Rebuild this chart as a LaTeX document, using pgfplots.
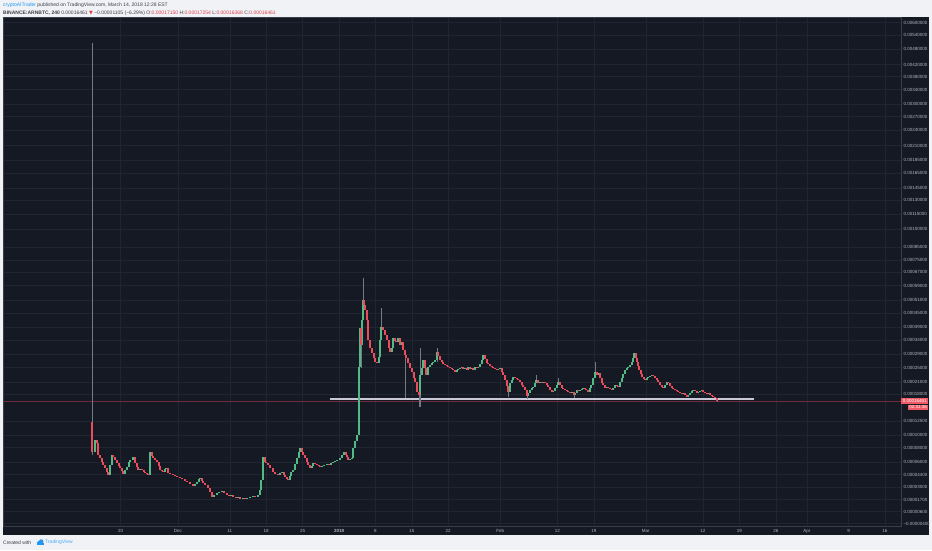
\documentclass[border=0pt]{standalone}
\usepackage{fontspec}
\setmainfont{Liberation Sans}
\newfontfamily\dejavu{DejaVu Sans}
\usepackage{pgfplots}
\usepackage{pgfplotstable}
\pgfplotsset{compat=1.18}

\definecolor{page}{RGB}{240,242,245}
\definecolor{bg}{RGB}{21,25,36}
\definecolor{gridc}{RGB}{33,37,49}
\definecolor{sep}{RGB}{58,62,74}
\definecolor{txt}{RGB}{178,181,190}
\definecolor{upc}{RGB}{83,185,135}
\definecolor{dnc}{RGB}{235,77,92}
\definecolor{wick}{RGB}{118,121,133}
\definecolor{hdr}{RGB}{60,62,72}
\definecolor{hred}{RGB}{222,62,74}
\definecolor{tvblue}{RGB}{33,150,243}
\definecolor{supc}{RGB}{200,200,214}
\definecolor{pline}{RGB}{112,42,58}
\definecolor{lblc}{RGB}{240,90,100}

% ARN/BTC, 4h candles; prices in units of 1e-5 BTC, x in days from 1 Jan 2018
% price scale: y = ln(price + 10)
\pgfplotstableread{
x o c
-46.92 7.37 9.19
-44.04 4.36 5.60
-43.65 5.60 6.95
-41.15 4.48 4.97
-40.77 4.97 5.34
-40.38 5.34 5.99
-40.19 5.99 6.26
-39.62 6.26 6.67
-38.27 4.97 5.09
-36.35 4.36 7.37
-33.46 4.72 5.09
-33.27 5.09 5.22
-27.69 3.11 3.33
-27.31 3.33 3.55
-26.92 3.55 3.89
-26.73 3.89 4.01
-24.04 1.97 2.17
-23.46 2.17 2.37
-23.08 2.37 2.47
-22.50 2.47 2.58
-20.77 2.06 2.17
-19.42 1.87 1.97
-18.46 1.77 1.87
-17.69 1.77 1.87
-17.12 1.87 1.97
-16.54 1.97 2.06
-15.58 1.97 2.17
-15.19 2.17 2.68
-15.00 2.68 3.78
-14.62 3.78 6.67
-11.35 4.36 4.60
-10.96 4.60 4.72
-9.42 3.78 4.24
-9.23 4.24 4.72
-8.85 4.72 4.97
-8.46 4.97 5.73
-8.08 5.73 6.53
-7.69 6.53 7.37
-7.50 7.37 7.96
-5.19 5.22 5.47
-5.00 5.47 5.86
-3.27 5.34 5.47
-2.88 5.47 5.60
-2.31 5.60 5.73
-1.54 5.60 5.86
-1.15 5.86 5.99
-0.77 5.99 6.12
-0.38 6.12 6.26
0.19 6.26 6.53
0.58 6.53 6.95
0.96 6.95 7.37
2.12 6.26 6.39
2.50 6.39 6.53
2.69 6.53 7.96
3.08 7.96 9.03
3.46 9.03 10.00
3.85 10.00 25.13
4.04 25.13 38.53
4.42 32.16 41.86
4.62 41.86 51.20
7.69 26.32 28.17
7.88 28.17 33.94
8.08 33.94 38.94
10.19 29.78 31.12
10.38 31.12 34.67
11.35 33.22 34.67
12.12 32.16 33.22
15.58 17.86 22.88
15.96 22.88 24.84
16.15 24.84 27.23
17.12 22.88 25.13
17.50 25.13 25.72
17.88 25.72 26.32
18.08 26.32 26.62
18.46 26.62 27.23
18.85 27.23 29.78
22.69 23.71 24.27
22.88 24.27 24.56
23.27 24.56 24.84
23.65 24.84 25.13
24.23 24.56 24.84
24.81 24.27 25.13
25.58 24.56 24.84
26.15 24.27 25.13
26.73 24.84 25.13
27.12 25.13 26.02
27.50 26.02 27.23
27.69 27.23 28.81
30.58 24.27 24.56
30.96 24.56 24.84
32.88 18.56 20.77
33.27 20.77 21.55
33.46 21.55 22.34
36.35 17.63 18.33
36.73 18.33 19.04
37.12 19.04 19.52
37.31 19.52 19.77
37.69 19.77 20.77
37.88 20.77 21.55
38.65 20.77 21.03
39.23 20.77 21.03
41.15 18.56 18.80
41.54 18.80 19.52
41.92 19.52 20.27
42.12 20.27 21.03
44.81 18.33 18.56
45.38 17.86 18.33
45.77 18.33 19.04
46.35 18.80 19.04
46.73 19.04 19.28
46.92 19.28 19.52
48.27 18.56 19.52
48.46 19.52 20.27
48.85 20.27 22.07
49.23 22.07 23.71
50.00 22.88 23.43
51.54 19.52 19.77
52.69 19.04 19.52
53.08 19.52 20.27
54.04 19.77 21.03
54.42 21.03 22.07
54.62 22.07 23.15
55.00 23.15 24.27
55.38 24.27 24.84
55.58 24.84 25.13
55.96 25.13 25.72
56.35 25.72 26.62
56.54 26.62 27.85
56.73 27.85 29.45
59.23 21.55 22.07
59.42 22.07 22.34
59.81 22.34 22.61
60.19 22.61 22.88
62.69 19.52 20.27
63.08 20.27 21.03
66.15 18.09 18.33
67.12 17.40 17.86
67.50 17.86 18.33
67.88 18.33 18.80
68.08 18.80 19.04
69.04 18.33 18.56
69.42 18.56 18.80
69.81 18.80 19.04
70.96 18.09 18.33
}\upT

\pgfplotstableread{
x o c
-47.50 12.27 7.37
-46.54 9.19 8.72
-46.35 8.72 6.95
-45.96 6.95 6.53
-45.58 6.53 5.99
-45.38 5.99 5.60
-45.00 5.60 5.22
-44.62 5.22 4.72
-44.42 4.72 4.36
-43.46 6.95 6.67
-43.08 6.67 6.26
-42.69 6.26 5.86
-42.31 5.86 5.47
-42.12 5.47 5.22
-41.73 5.22 4.84
-41.54 4.84 4.48
-39.23 6.67 5.86
-38.85 5.86 5.34
-38.65 5.34 4.97
-37.88 5.09 4.97
-37.50 4.97 4.72
-37.31 4.72 4.60
-36.92 4.60 4.48
-36.73 4.48 4.36
-35.96 7.37 6.81
-35.77 6.81 6.53
-35.38 6.53 6.26
-35.00 6.26 5.99
-34.62 5.99 5.47
-34.42 5.47 4.97
-34.04 4.97 4.84
-33.85 4.84 4.72
-32.88 5.22 4.60
-32.50 4.60 4.48
-31.92 4.48 4.36
-31.54 4.36 4.24
-31.15 4.24 4.12
-30.58 4.12 4.01
-30.19 4.01 3.89
-29.62 3.89 3.66
-29.23 3.66 3.55
-28.65 3.55 3.33
-28.08 3.33 3.11
-26.35 4.01 3.66
-26.15 3.66 3.44
-25.77 3.44 3.22
-25.19 3.22 2.89
-24.81 2.89 2.47
-24.42 2.47 1.97
-22.12 2.58 2.37
-21.54 2.37 2.17
-21.15 2.17 2.06
-20.38 2.17 1.97
-19.81 1.97 1.87
-19.04 1.97 1.77
-18.08 1.87 1.77
-16.15 2.06 1.97
-14.23 6.67 5.99
-14.04 5.99 5.86
-13.65 5.86 5.60
-13.27 5.60 5.22
-12.69 5.22 4.72
-12.31 4.72 4.48
-11.73 4.48 4.36
-10.58 4.72 4.36
-10.38 4.36 4.12
-10.00 4.12 3.89
-9.81 3.89 3.78
-7.12 7.96 7.37
-6.92 7.37 6.95
-6.54 6.95 6.53
-6.15 6.53 5.99
-5.96 5.99 5.60
-5.58 5.60 5.22
-4.62 5.86 5.73
-4.23 5.73 5.60
-3.85 5.60 5.47
-3.65 5.47 5.34
-1.92 5.73 5.60
1.35 7.37 6.95
1.54 6.95 6.67
1.73 6.67 6.26
4.23 38.53 32.16
4.81 51.20 48.72
5.00 48.72 46.34
5.38 46.34 41.86
5.58 41.86 33.94
5.96 33.94 31.12
6.35 31.12 29.45
6.73 29.45 27.85
6.92 27.85 26.62
7.31 26.62 26.32
8.46 38.94 37.74
8.85 37.74 35.80
9.23 35.80 33.94
9.62 33.94 31.12
9.81 31.12 29.78
10.77 34.67 33.58
10.96 33.58 33.22
11.73 34.67 32.16
12.31 33.22 30.45
12.69 30.45 28.81
12.88 28.81 27.85
13.27 27.85 26.32
13.65 26.32 24.84
14.04 24.84 23.71
14.42 23.71 22.07
14.62 22.07 21.03
15.00 21.03 18.56
15.38 18.56 17.86
16.54 27.23 24.84
16.73 24.84 22.88
19.04 29.78 28.49
19.42 28.49 27.23
19.81 27.23 26.62
20.00 26.62 26.02
20.38 26.02 25.72
20.77 25.72 25.43
20.96 25.43 25.13
21.35 25.13 24.84
21.73 24.84 24.56
21.92 24.56 24.27
22.31 24.27 23.71
23.85 25.13 24.56
24.62 24.84 24.27
25.19 25.13 24.56
25.77 24.84 24.27
26.54 25.13 24.84
28.08 28.81 27.54
28.46 27.54 26.32
28.65 26.32 26.02
29.04 26.02 25.43
29.42 25.43 25.13
29.62 25.13 24.84
30.00 24.84 24.56
30.38 24.56 24.27
31.35 24.84 23.71
31.54 23.71 22.88
31.92 22.88 21.55
32.31 21.55 20.02
32.50 20.02 18.56
33.85 22.34 22.07
34.23 22.07 21.81
34.42 21.81 21.55
34.81 21.55 21.03
35.19 21.03 20.27
35.38 20.27 19.77
35.77 19.77 19.04
36.15 19.04 17.63
38.27 21.55 20.77
39.04 21.03 20.77
39.62 21.03 20.77
40.00 20.77 20.27
40.19 20.27 19.77
40.58 19.77 19.04
40.96 19.04 18.56
42.50 21.03 20.27
42.88 20.27 19.52
43.08 19.52 19.28
43.46 19.28 19.04
43.85 19.04 18.80
44.04 18.80 18.56
44.42 18.56 18.33
45.19 18.56 17.86
45.96 19.04 18.80
47.31 19.52 19.28
47.50 19.28 19.04
47.88 19.04 18.56
49.62 23.71 22.88
50.19 23.43 22.07
50.58 22.07 20.77
50.77 20.77 20.27
51.15 20.27 19.52
51.73 19.77 19.52
52.12 19.52 19.28
52.50 19.28 19.04
53.46 20.27 20.02
53.65 20.02 19.77
57.12 29.45 27.85
57.31 27.85 26.62
57.50 26.62 25.43
57.69 25.43 24.27
58.08 24.27 23.15
58.27 23.15 22.34
58.65 22.34 21.81
58.85 21.81 21.55
60.38 22.88 22.61
60.77 22.61 22.07
61.15 22.07 21.55
61.35 21.55 21.03
61.73 21.03 20.27
62.12 20.27 19.77
62.31 19.77 19.52
63.27 21.03 20.77
63.65 20.77 20.02
64.04 20.02 19.52
64.23 19.52 19.28
64.62 19.28 19.04
65.00 19.04 18.80
65.19 18.80 18.56
65.58 18.56 18.33
65.96 18.33 18.09
66.54 18.33 17.86
66.92 17.86 17.40
68.46 19.04 18.80
68.85 18.80 18.33
70.00 19.04 18.56
70.38 18.56 18.33
70.77 18.33 18.09
71.35 18.33 17.86
71.73 17.86 17.63
71.92 17.63 17.40
72.31 17.40 17.15
72.69 17.15 16.461
}\dnT

% wicks that stick out of the bodies
\pgfplotstableread{
x l h
-47.50 6.95 504.6
4.23 24.84 38.53
4.62 41.86 63.44
8.08 33.94 47.28
12.69 17.18 30.45
15.38 15.22 18.56
15.58 15.22 31.12
18.85 26.62 31.12
32.50 17.40 20.02
36.15 16.95 19.04
37.88 20.77 22.88
42.12 20.27 22.07
45.19 17.18 18.56
49.23 22.07 26.62
72.69 16.368 17.254
}\wickT

\begin{document}
\begin{tikzpicture}
\fill[page] (0pt,0pt) rectangle (932pt,550pt);
\fill[bg] (3pt,15pt) rectangle (929pt,533pt);

\node[anchor=west, inner sep=0pt, text=hdr, font=\fontsize{5}{6}\selectfont] at (3pt,545pt)
  {\textcolor{tvblue}{cryptoAITrader} published on TradingView.com, March 14, 2018 12:28 EST};
\node[anchor=west, inner sep=0pt, text=hdr, font=\fontsize{5}{6}\selectfont] at (3pt,537pt)
  {\textbf{BINANCE:ARNBTC, 240} 0.00016461 {\dejavu\textcolor{hred}{▼}} −0.00001105 (−6.29\%)
   O:\textcolor{hred}{0.00017150} H:\textcolor{hred}{0.00017254} L:\textcolor{hred}{0.00016368} C:\textcolor{hred}{0.00016461}};

\begin{axis}[
    at={(3pt,24pt)}, anchor=south west,
    scale only axis, width=898pt, height=509pt,
    xmin=-64.62, xmax=108.08,
    ymin=2.2418, ymax=6.4589,
    clip mode=individual,
    axis line style={draw=sep, line width=0.6pt},
    grid=major,
    major grid style={draw=gridc, line width=0.5pt},
    major tick length=0pt,
    xtick={-42,-31,-21,-14,-7,0,7,14,21,31,42,49,59,70,77,84,90,98,105},
    xticklabels={20,Dec,11,18,25,\textbf{2018},8,15,22,Feb,12,19,Mar,12,19,26,Apr,9,16},
    xticklabel style={font=\fontsize{4.5}{5}\selectfont, text=txt, inner sep=0pt, anchor=north, yshift=-3.3pt},
    yticklabel pos=right,
    ytick={6.4135,6.3099,6.1944,6.0638,5.9661,5.8579,5.7366,5.6348,5.5215,5.3936,5.2730,5.1648,5.0434,4.9416,4.8283,4.7005,4.5539,4.4427,4.3438,4.2341,4.1109,4.0073,3.8918,3.7842,3.6636,3.5553,3.4340,3.3322,3.1135,2.9957,2.8904,2.7726,2.6672,2.5649,2.4596,2.3609,2.2618},
    yticklabels={0.00600000,0.00540000,0.00480000,0.00420000,0.00380000,0.00340000,0.00300000,0.00270000,0.00240000,0.00210000,0.00185000,0.00165000,0.00145000,0.00130000,0.00115000,0.00100000,0.00085000,0.00075000,0.00067000,0.00059000,0.00051000,0.00045000,0.00039000,0.00034000,0.00029000,0.00025000,0.00021000,0.00018000,0.00012500,0.00010000,0.00008000,0.00006000,0.00004400,0.00003000,0.00001700,0.00000600,−0.00000400},
    yticklabel style={font=\fontsize{4.5}{5}\selectfont, text=txt, inner sep=0pt, anchor=west, xshift=2.3pt},
]

% last price line
\addplot[draw=pline, line width=0.5pt, forget plot] table[x=x, y expr={ln(\thisrow{p}+10)}] {
x p
-64.62 16.461
108.08 16.461
};

% support line drawn on the chart
\addplot[draw=supc, line width=2.4pt, forget plot] table[x=x, y expr={ln(\thisrow{p}+10)}] {
x p
-1.73 16.95
79.81 16.95
};

% wicks
\addplot[draw=none, mark=none, forget plot,
  error bars/.cd, y dir=plus, y explicit, error mark=none,
  error bar style={draw=wick, line width=0.45pt}]
  table[x=x, y expr={ln(\thisrow{l}+10)}, y error plus expr={ln(\thisrow{h}+10)-ln(\thisrow{l}+10)}] {\wickT};

% bodies
\addplot[draw=none, mark=none, forget plot,
  error bars/.cd, y dir=plus, y explicit, error mark=none,
  error bar style={draw=upc, line width=1.2pt}]
  table[x=x, y expr={ln(\thisrow{o}+10)}, y error plus expr={ln(\thisrow{c}+10)-ln(\thisrow{o}+10)}] {\upT};
\addplot[draw=none, mark=none, forget plot,
  error bars/.cd, y dir=plus, y explicit, error mark=none,
  error bar style={draw=dnc, line width=1.2pt}]
  table[x=x, y expr={ln(\thisrow{c}+10)}, y error plus expr={ln(\thisrow{o}+10)-ln(\thisrow{c}+10)}] {\dnT};

% price label on the scale
\node[name=plab, fill=lblc, text=white, inner sep=0pt, minimum height=5.8pt, minimum width=27pt,
  anchor=west, font=\fontsize{4.5}{5}\selectfont] at (axis cs:108.08,3.2757) {0.00016461};
\node[fill=lblc, text=white, inner sep=0pt, minimum height=5.8pt, minimum width=20pt,
  anchor=north east, font=\fontsize{4.5}{5}\selectfont] at (plab.south east) {02:31:36};
\end{axis}

\node[anchor=west, inner sep=0pt, text=hdr, font=\fontsize{5}{6}\selectfont] at (3pt,7.5pt) {Created with};
\fill[tvblue] (38.6pt,7.2pt) circle (1.9pt);
\fill[tvblue] (41.2pt,8.4pt) circle (2.3pt);
\fill[tvblue] (37pt,5.4pt) rectangle (43.5pt,7.4pt);
\node[anchor=west, inner sep=0pt, text=tvblue!80, font=\fontsize{5}{6}\selectfont] at (45pt,7.5pt) {TradingView};

\pgfresetboundingbox
\useasboundingbox (0pt,0pt) rectangle (932pt,550pt);
\end{tikzpicture}
\end{document}
